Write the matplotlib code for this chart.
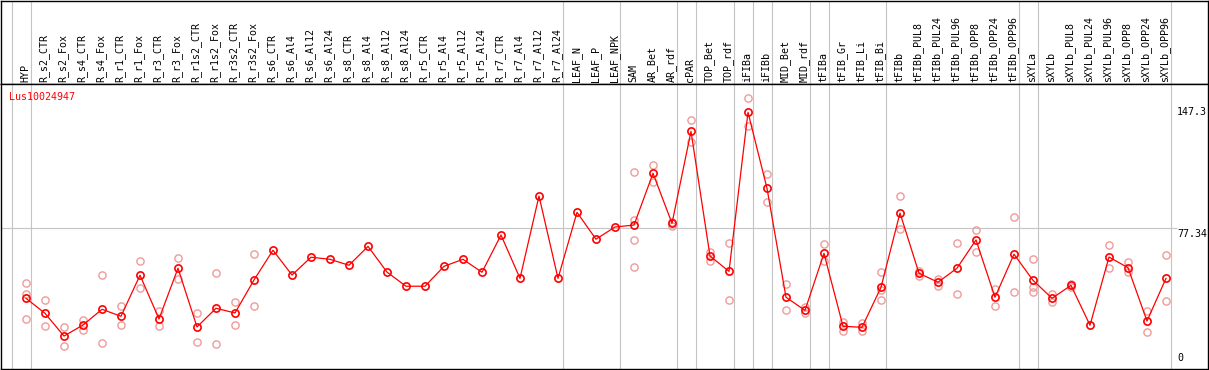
import matplotlib
matplotlib.use("Agg")
import matplotlib.pyplot as plt
import matplotlib.transforms as mtransforms

gene = "Lus10024947"

samples = ["HYP", "R_s2_CTR", "R_s2_Fox", "R_s4_CTR", "R_s4_Fox", "R_r1_CTR", "R_r1_Fox",
           "R_r3_CTR", "R_r3_Fox", "R_r1s2_CTR", "R_r1s2_Fox", "R_r3s2_CTR", "R_r3s2_Fox",
           "R_s6_CTR", "R_s6_Al4", "R_s6_Al12", "R_s6_Al24", "R_s8_CTR", "R_s8_Al4",
           "R_s8_Al12", "R_s8_Al24", "R_r5_CTR", "R_r5_Al4", "R_r5_Al12", "R_r5_Al24",
           "R_r7_CTR", "R_r7_Al4", "R_r7_Al12", "R_r7_Al24", "LEAF_N", "LEAF_P", "LEAF_NPK",
           "SAM", "AR_Bet", "AR_rdf", "cPAR", "TOP_Bet", "TOP_rdf", "iFIBa", "iFIBb",
           "MID_Bet", "MID_rdf", "tFIBa", "tFIB_Gr", "tFIB_Li", "tFIB_Bi", "tFIBb",
           "tFIBb_PUL8", "tFIBb_PUL24", "tFIBb_PUL96", "tFIBb_OPP8", "tFIBb_OPP24",
           "tFIBb_OPP96", "sXYLa", "sXYLb", "sXYLb_PUL8", "sXYLb_PUL24", "sXYLb_PUL96",
           "sXYLb_OPP8", "sXYLb_OPP24", "sXYLb_OPP96"]

means = [37.3, 28.7, 15.7, 22.0, 31.0, 27.0, 50.5, 25.5, 54.5, 20.9, 31.6, 28.9, 47.8,
         64.8, 50.6, 60.8, 59.6, 56.2, 67.0, 52.3, 44.2, 44.2, 55.6, 59.6, 52.2,
         73.5, 48.7, 95.8, 48.7, 86.5, 71.1, 78.1,
         79.2, 108.8, 80.2, 132.8, 61.5, 52.7, 143.7, 100.2,
         37.9, 30.4, 63.0, 21.3, 20.7, 43.6, 86.1,
         51.6, 46.5, 54.5, 70.7, 37.9, 62.5,
         47.6, 37.3, 44.7, 21.9, 60.9, 54.8, 24.3, 48.7]

replicates = [[46.3, 39.5, 25.4], [36.2, 21.5], [20.9, 9.8], [24.9, 19.3], [50.5, 11.6],
              [32.7, 21.9], [58.5, 43.0], [30.0, 21.3], [60.2, 48.5], [28.7, 12.1],
              [51.6, 11.0], [35.0, 21.9], [62.5, 32.7],
              [], [], [], [], [], [], [], [], [], [], [], [], [], [], [], [], [], [], [],
              [109.4, 82.1, 70.5, 55.2], [113.4, 104.0], [80.8, 78.7], [139.1, 126.5],
              [63.8, 58.8], [69.1, 36.2], [151.7, 136.0], [108.2, 92.6],
              [45.3, 30.4], [32.2, 29.1], [68.4, 58.8], [23.6, 18.8], [23.0, 18.5],
              [52.3, 42.0, 36.2], [95.7, 76.8],
              [52.9, 50.2], [48.5, 44.5], [68.8, 39.6], [76.2, 64.0], [42.6, 32.7],
              [83.6, 40.7],
              [59.6, 43.9, 40.7], [39.9, 35.0], [45.5, 44.0], [], [67.6, 54.5],
              [58.1, 52.3], [30.0, 17.8], [62.1, 35.6]]

# index of the last sample in each group (separator drawn after it)
group_ends = [-1, 0, 28, 31, 34, 35, 37, 38, 39, 41, 42, 45, 52, 53, 60]
y_marks = [147.3, 77.34, 0]

W, H = 1209, 370
fig = plt.figure(figsize=(W / 100, H / 100), dpi=100)
ax_top = fig.add_axes([1 / W, (H - 84) / H, 1207 / W, 83.5 / H])
ax = fig.add_axes([1 / W, 1 / H, 1207 / W, 285 / H], sharex=ax_top)

x0 = (1 - 26) / 19
x1 = (1208 - 26) / 19
ax.set_xlim(x0, x1)
ax.set_ylim(-3.15, 159.9)
ax_top.set_ylim(0, 1)

for a in (ax_top, ax):
    a.set_xticks([])
    a.set_yticks([])
    for sp in a.spines.values():
        sp.set_color("black")
        sp.set_linewidth(1.0)
    for g in group_ends:
        a.axvline(g + 0.25, color="#c4c4c4", lw=0.8, zorder=1)

grey = "#c4c4c4"
ax.hlines(y_marks[1], x0, 60.6, color=grey, lw=0.8, zorder=1)

mono = "DejaVu Sans Mono"
fs = 7.2

# sample labels
trans = mtransforms.blended_transform_factory(ax_top.transData, ax_top.transAxes)
for i, s in enumerate(samples):
    ax_top.text(i - 0.05, 0.02, s, rotation=90, ha="center", va="bottom",
                family=mono, fontsize=fs, transform=trans)

# replicate points
for i, reps in enumerate(replicates):
    if reps:
        ax.plot([i] * len(reps), reps, "o", mfc="none", mec="#f09a9a",
                ms=5.2, mew=1.0, zorder=2)

# mean line
ax.plot(range(len(means)), means, color="red", lw=0.9, marker="o", mfc="none",
        mec="red", ms=5.2, mew=1.2, zorder=3)

ax.text(8 / 1207, 0.954, gene, color="red", family=mono, fontsize=fs,
        ha="left", va="center", transform=ax.transAxes)

ytrans = mtransforms.blended_transform_factory(ax.transAxes, ax.transData)
lx = (1177 - 1) / 1207
ax.text(lx, y_marks[0] - 0.6, "147.3", family=mono, fontsize=fs, ha="left", va="top",
        transform=ytrans)
ax.text(lx, y_marks[1] - 0.6, "77.34", family=mono, fontsize=fs, ha="left", va="top",
        transform=ytrans)
ax.text(lx, y_marks[2] + 0.3, "0", family=mono, fontsize=fs, ha="left", va="bottom",
        transform=ytrans)

fig.savefig("out.png", dpi=100)
